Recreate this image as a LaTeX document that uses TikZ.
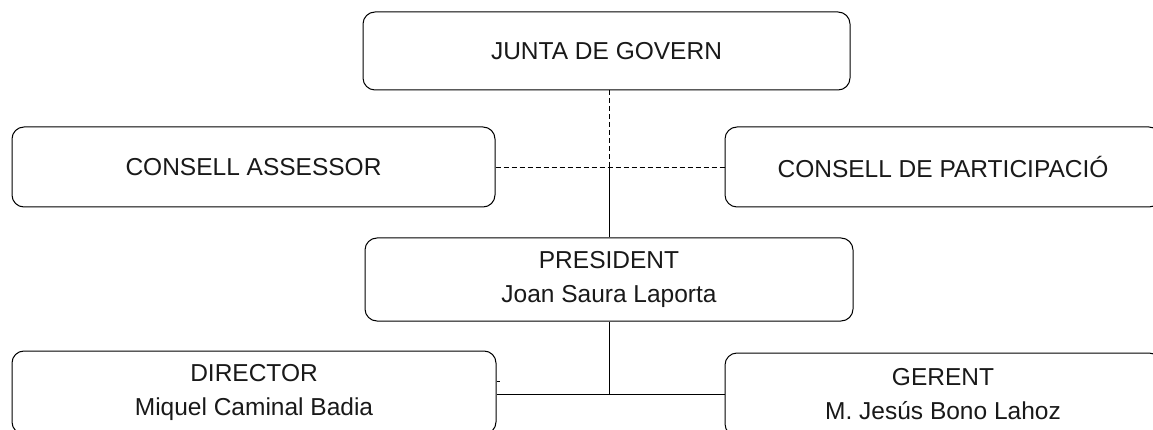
\documentclass[tikz,border=0pt]{standalone}
\usepackage{fontspec}
\setmainfont{Liberation Sans}
\begin{document}
\begin{tikzpicture}[x=1pt,y=-1pt,
  box/.style={draw, line width=1pt, rounded corners=12pt, inner sep=0pt, align=center,
    font=\fontsize{24.5}{34}\selectfont, text=black!90},
  solidline/.style={line width=1pt},
  dashline/.style={line width=1pt, dash pattern=on 5pt off 3pt}]
\useasboundingbox (0,0) rectangle (1153,430);
\node[box, minimum width=487pt, minimum height=78pt] (junta) at (606.5,51) {JUNTA DE GOVERN};
\node[box, minimum width=483pt, minimum height=80pt] (assessor) at (253.5,167) {CONSELL ASSESSOR};
\node[box, minimum width=436pt, minimum height=80pt] (particip) at (943,167) {CONSELL DE PARTICIPACIÓ};
\node[box, minimum width=488pt, minimum height=83pt] (president) at (609,279.5) {PRESIDENT\\Joan Saura Laporta};
\node[box, minimum width=484pt, minimum height=83pt] (director) at (254,392.5) {DIRECTOR\\Miquel Caminal Badia};
\node[box, minimum width=436pt, minimum height=83pt] (gerent) at (943,394.5) {GERENT\\M. Jesús Bono Lahoz};
\coordinate (top) at (609,90);
\coordinate (mid) at (609,168);
\coordinate (low) at (609,394);
\draw[dashline] (top) -- (mid);
\draw[solidline] (mid) -- (president.north -| mid);
\draw[dashline] (assessor.east |- mid) -- (particip.west |- mid);
\draw[solidline] (president.south -| low) -- (low);
\draw[solidline] (director.east |- low) -- (gerent.west |- low);
\draw[line width=0.8pt] (director.east |- 0,381) -- ++(3,0);
\end{tikzpicture}
\end{document}
